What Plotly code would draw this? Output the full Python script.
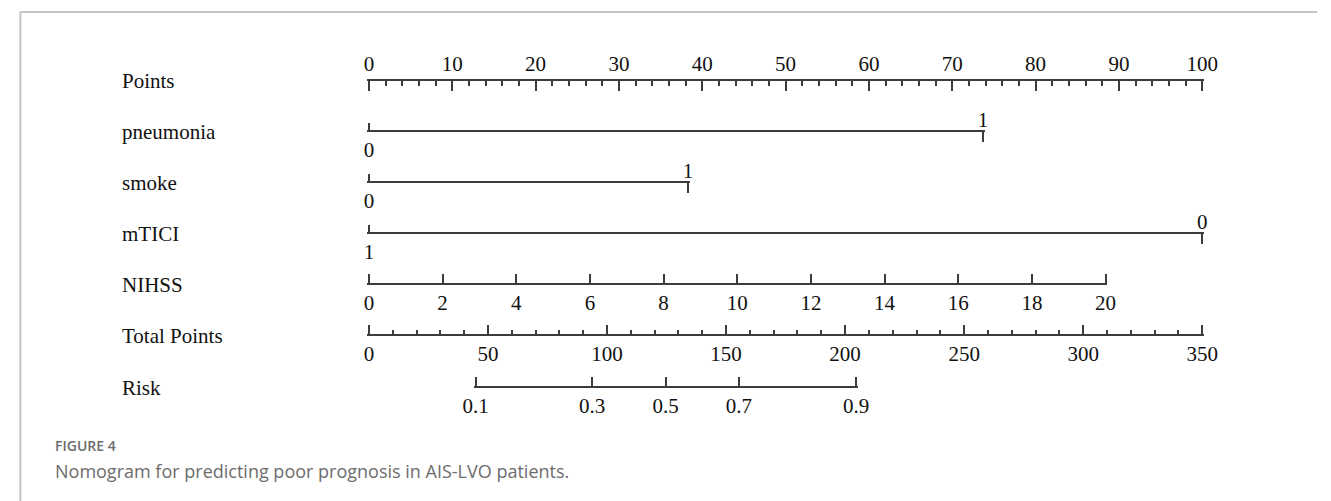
import plotly.graph_objects as go

W, H = 1331, 501

# ---------------- data ----------------
row_names = ["Points", "pneumonia", "smoke", "mTICI", "NIHSS", "Total Points", "Risk"]

points_ticks = list(range(0, 101, 10))           # Points scale 0..100

pneumonia_labels = ["0", "1"]
pneumonia_points = [0, 73.7]

smoke_labels = ["0", "1"]
smoke_points = [0, 38.3]

mtici_labels = ["1", "0"]
mtici_points = [0, 100]

nihss_values = list(range(0, 21, 2))
nihss_points = [0, 88.4]                         # points at NIHSS = 0 and NIHSS = 20

total_ticks = list(range(0, 351, 50))
total_range = [0, 350]

risk_labels = ["0.1", "0.3", "0.5", "0.7", "0.9"]
risk_total_points = [44.8, 93.8, 124.6, 155.4, 204.6]

caption_label = "FIGURE 4"
caption_text = "Nomogram for predicting poor prognosis in AIS-LVO patients."

# ---------------- layout geometry ----------------
X0_PX, X100_PX = 364, 1214          # pixel x of 0 and 100 points
ROW_Y = [80, 131, 182, 233, 284, 335, 387]
LABEL_X = 110
LC = "#3c3c3c"
TC = "#111111"
SERIF = "Liberation Serif"
FS = 21
PAD_PX = 1.6                        # keeps end ticks from being clipped


def p2px(p):
    return X0_PX + p / 100.0 * (X100_PX - X0_PX)


def ypos(ypx):
    return 1 - ypx / H


fig = go.Figure()
layout_axes = {}
n_axis = [0]


def add_axis(px_span, rng, ypx, side, ticklen, tickvals=None, ticktext=None,
             dtick=None, minor=None, showline=True):
    n_axis[0] += 1
    k = n_axis[0]
    name = "xaxis" if k == 1 else f"xaxis{k}"
    ref = "x" if k == 1 else f"x{k}"
    upp = (rng[1] - rng[0]) / (px_span[1] - px_span[0])
    pad = PAD_PX * upp
    ax = dict(domain=[(px_span[0] - PAD_PX) / W, (px_span[1] + PAD_PX) / W],
              range=[rng[0] - pad, rng[1] + pad],
              anchor="free", position=ypos(ypx), side=side,
              showline=showline, linecolor=LC, linewidth=1.5,
              ticks="inside", ticklen=ticklen, tickwidth=1.5, tickcolor=LC,
              showgrid=False, zeroline=False, fixedrange=True,
              tickfont=dict(family=SERIF, size=FS, color=TC))
    if tickvals is not None:
        ax.update(tickmode="array", tickvals=tickvals, ticktext=ticktext)
    else:
        ax.update(tickmode="linear", tick0=rng[0], dtick=dtick)
    if minor is not None:
        ax["minor"] = minor
    layout_axes[name] = ax
    fig.add_trace(go.Scatter(x=rng, y=[-10, -10], xaxis=ref, yaxis="y", mode="markers",
                             marker=dict(opacity=0), hoverinfo="skip", showlegend=False))


# Points
add_axis([p2px(0), p2px(100)], [points_ticks[0], points_ticks[-1]], ROW_Y[0], "top", 10,
         dtick=points_ticks[1] - points_ticks[0],
         minor=dict(dtick=2, ticks="inside", ticklen=5, tickwidth=1.5, tickcolor=LC))

# binary variables: first level tick up / label below, second level tick down / label above
for (labels, pts), ypx in zip([(pneumonia_labels, pneumonia_points),
                               (smoke_labels, smoke_points),
                               (mtici_labels, mtici_points)], ROW_Y[1:4]):
    span = [p2px(pts[0]), p2px(pts[1])]
    rng = [pts[0], pts[1]]
    add_axis(span, rng, ypx, "bottom", 7, tickvals=[pts[0]], ticktext=[labels[0]])
    add_axis(span, rng, ypx, "top", 10, tickvals=[pts[1]], ticktext=[labels[1]],
             showline=False)

# NIHSS
add_axis([p2px(nihss_points[0]), p2px(nihss_points[1])],
         [nihss_values[0], nihss_values[-1]], ROW_Y[4], "bottom", 9,
         tickvals=nihss_values, ticktext=[str(v) for v in nihss_values])

# Total points
tp_scale = 100.0 / total_range[1]
add_axis([p2px(total_range[0] * tp_scale), p2px(total_range[1] * tp_scale)], total_range,
         ROW_Y[5], "bottom", 9, dtick=total_ticks[1] - total_ticks[0],
         minor=dict(dtick=10, ticks="inside", ticklen=4, tickwidth=1.5, tickcolor=LC))

# Risk
add_axis([p2px(risk_total_points[0] * tp_scale), p2px(risk_total_points[-1] * tp_scale)],
         [risk_total_points[0], risk_total_points[-1]], ROW_Y[6], "bottom", 9,
         tickvals=risk_total_points, ticktext=risk_labels)

annotations = []
for name, ypx in zip(row_names, ROW_Y):
    annotations.append(dict(x=LABEL_X / W, y=ypos(ypx + 1), xref="paper", yref="paper",
                            text=name, showarrow=False, xanchor="left", yanchor="middle",
                            font=dict(family=SERIF, size=FS, color=TC)))
annotations.append(dict(x=42 / W, y=ypos(456.5), xref="paper", yref="paper",
                        text=caption_label, showarrow=False, xanchor="left", yanchor="bottom",
                        font=dict(family="Open Sans", size=14, color="#6c6c6c", weight=600)))
annotations.append(dict(x=42 / W, y=ypos(456.5), xref="paper", yref="paper",
                        text=caption_text, showarrow=False, xanchor="left", yanchor="top",
                        font=dict(family="Open Sans", size=18, color="#6c6c6c")))

shapes = [
    dict(type="line", xref="paper", yref="paper", x0=8.5 / W, x1=1, y0=ypos(12), y1=ypos(12),
         line=dict(color="#c4c4c4", width=2)),
    dict(type="line", xref="paper", yref="paper", x0=8.5 / W, x1=8.5 / W, y0=ypos(12), y1=0,
         line=dict(color="#c4c4c4", width=2)),
]

fig.update_layout(
    width=W, height=H, margin=dict(l=0, r=0, t=0, b=0),
    paper_bgcolor="white", plot_bgcolor="rgba(0,0,0,0)",
    yaxis=dict(domain=[0, 1], range=[0, 1], visible=False, fixedrange=True),
    annotations=annotations, shapes=shapes, showlegend=False,
    **layout_axes,
)

fig.write_html(
    "out.html",
    config={"displayModeBar": False},
    post_script="document.body.style.margin='0';document.body.style.overflow='hidden';"
                "document.documentElement.style.overflow='hidden';",
)
